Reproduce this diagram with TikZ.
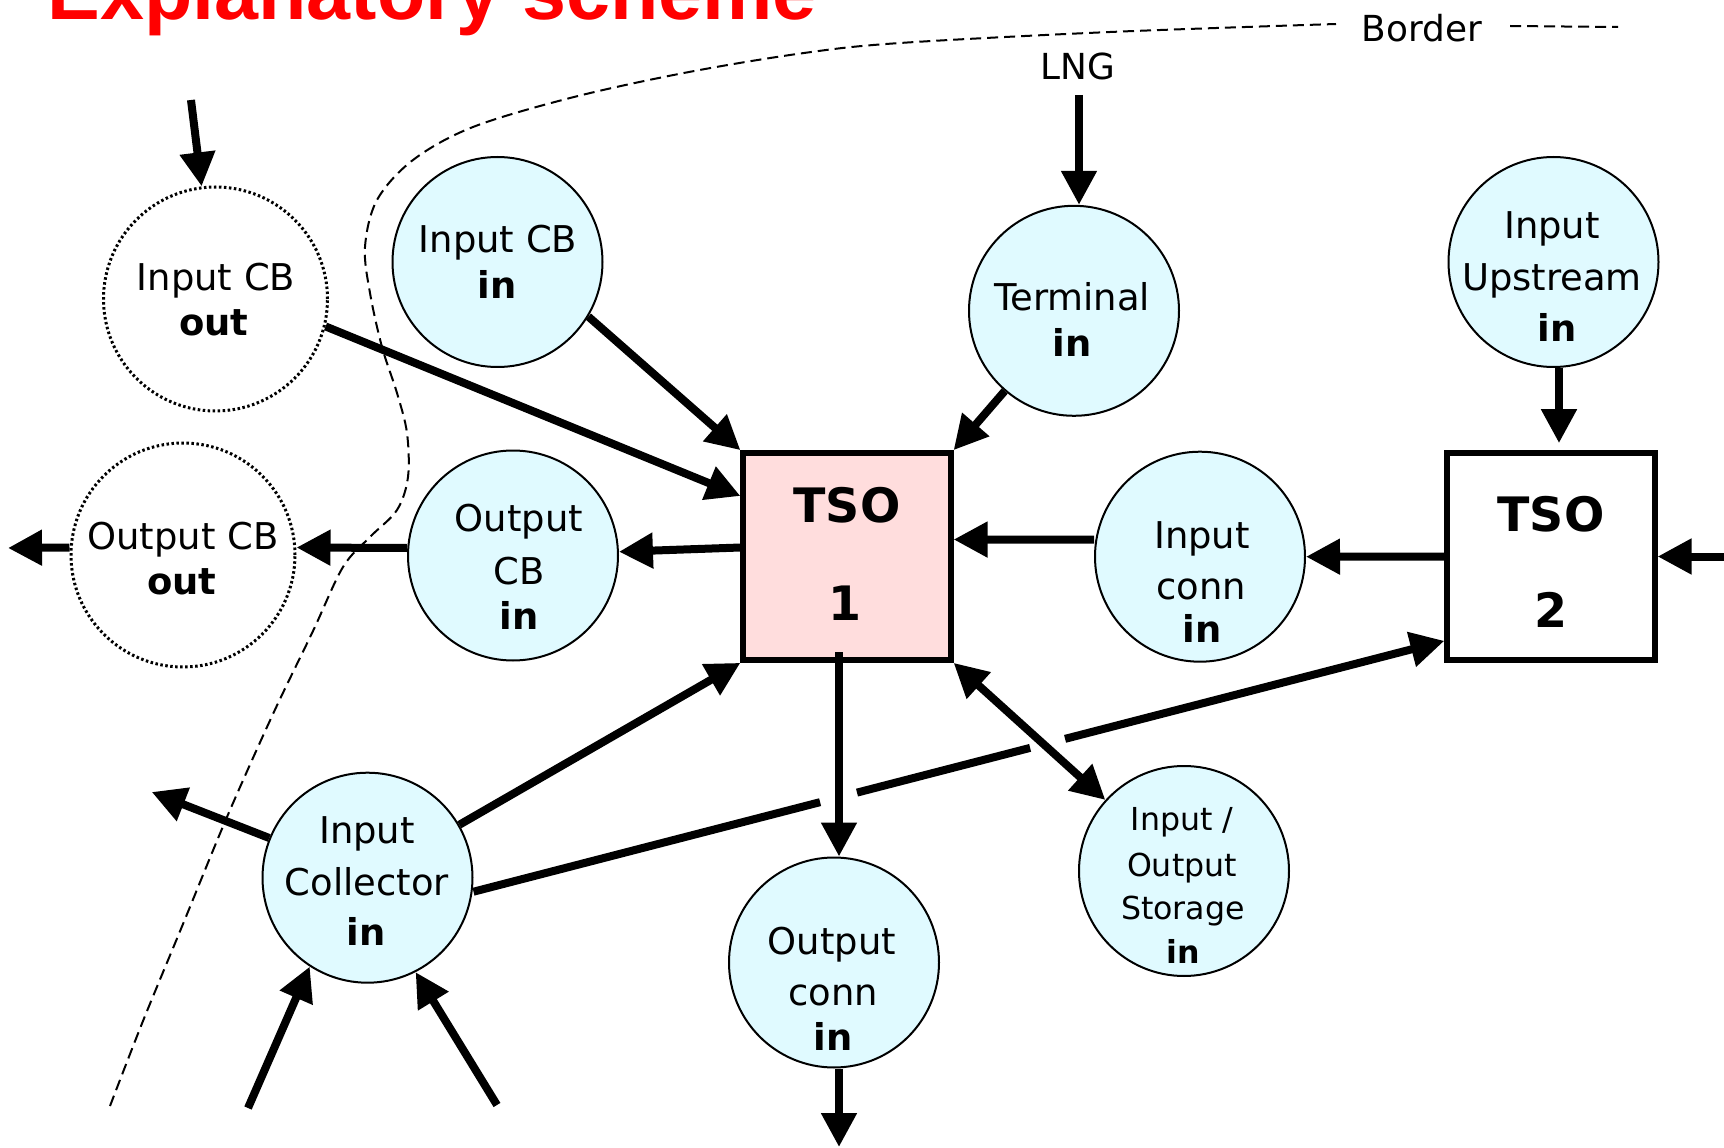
\documentclass[tikz,border=0pt]{standalone}
\usepackage{fontspec}
\setmainfont{DejaVu Sans}
\newfontfamily\titlefont{Liberation Sans}
\usetikzlibrary{arrows.meta,calc}
\definecolor{cyanfill}{RGB}{224,250,255}
\definecolor{pinkfill}{RGB}{255,221,221}
\begin{document}
\begin{tikzpicture}[x=0.1mm,y=-0.1mm,
  cnode/.style={circle,draw,line width=0.2mm,fill=cyanfill,minimum size=21mm,inner sep=0pt},
  dnode/.style={circle,draw,line width=0.3mm,dash pattern=on 0.25mm off 0.25mm,minimum size=22.4mm,inner sep=0pt},
  tsobox/.style={rectangle,draw,line width=0.57mm,minimum width=20.75mm,minimum height=20.7mm,inner sep=0pt},
  txt/.style={inner sep=0pt,anchor=base,font=\fontsize{10.5}{12}\selectfont},
  txtb/.style={inner sep=0pt,anchor=base,font=\bfseries\fontsize{10.5}{12}\selectfont},
  txts/.style={inner sep=0pt,anchor=base,font=\fontsize{9}{11}\selectfont},
  txtsb/.style={inner sep=0pt,anchor=base,font=\bfseries\fontsize{9}{11}\selectfont},
  tsotxt/.style={inner sep=0pt,anchor=base,font=\bfseries\fontsize{13.5}{16}\selectfont},
  conn/.style={line width=0.8mm},
  arr/.style={line width=0.8mm,-{Triangle[length=3.4mm,width=3.4mm]}},
  arrtwo/.style={line width=0.8mm,{Triangle[length=3.4mm,width=3.4mm]}-{Triangle[length=3.4mm,width=3.4mm]}},
  borderline/.style={line width=0.2mm,dash pattern=on 1.1mm off 0.6mm}
]
\useasboundingbox (0,0) rectangle (1724,1148);
\fill[white] (0,0) rectangle (1724,1148);

% title
\node[anchor=base west,inner sep=0pt,font=\titlefont\bfseries\fontsize{22.5}{27}\selectfont,text=red] (title) at (47,20) {Explanatory scheme};

% border
\draw[borderline] plot[smooth,tension=0.55] coordinates {(110,1106) (143,1021) (183,924) (227,817) (273,714) (313,631) (343,567) (370,537) (397,510) (408,477) (407,433) (397,393) (382,347) (370,293) (365,247) (377,200) (413,160) (473,127) (574,97) (689,72) (804,53) (900,43) (1110,32) (1336,24)};
\draw[borderline] (1510,26) -- (1618,27);
\node[inner sep=0pt,anchor=base,font=\fontsize{10.2}{12}\selectfont] (borderlbl) at (1422,42) {Border};
\node[inner sep=0pt,anchor=base,font=\fontsize{10.2}{12}\selectfont] (lng) at (1078,80) {LNG};

% TSO boxes
\node[tsobox,fill=pinkfill] (tso1) at (847,556.5) {};
\node[tsobox,fill=white] (tso2) at (1551,556.5) {};
\node[tsotxt] (tso1a) at (847,523) {TSO};
\node[tsotxt] (tso1b) at (845,620) {1};
\node[tsotxt] (tso2a) at (1551,531) {TSO};
\node[tsotxt] (tso2b) at (1551,627) {2};

% dotted circles
\node[dnode] (icbout) at (215.5,299) {};
\node[txt] (icbout1) at (216,290) {Input CB};
\node[txtb] (icbout2) at (214,335.5) {out};
\node[dnode] (ocbout) at (183,555) {};
\node[txt] (ocbout1) at (183,549) {Output CB};
\node[txtb] (ocbout2) at (182,594.5) {out};

% cyan circles
\node[cnode] (icbin) at (497.5,262) {};
\node[txt] (icbin1) at (498,253) {Input CB};
\node[txtb] (icbin2) at (497,299) {in};

\node[cnode] (ocbin) at (513,555.5) {};
\node[txt] (ocbin1) at (519,531.5) {Output};
\node[txt] (ocbin2) at (519,584) {CB};
\node[txtb] (ocbin3) at (519,629.5) {in};

\node[cnode] (terminal) at (1074,310.8) {};
\node[txt] (terminal1) at (1072,310.6) {Terminal};
\node[txtb] (terminal2) at (1072,356) {in};

\node[cnode] (upstream) at (1553.5,262) {};
\node[txt] (upstream1) at (1552,239) {Input};
\node[txt] (upstream2) at (1552,290) {Upstream};
\node[txtb] (upstream3) at (1557,342) {in};

\node[cnode] (inconn) at (1200,556.7) {};
\node[txt] (inconn1) at (1202,548) {Input};
\node[txt] (inconn2) at (1201,599) {conn};
\node[txtb] (inconn3) at (1202,642.8) {in};

\node[cnode] (collector) at (367.5,877.7) {};
\node[txt] (collector1) at (367,843) {Input};
\node[txt] (collector2) at (367,895) {Collector};
\node[txtb] (collector3) at (366,945) {in};

\node[cnode] (outconn) at (834,962.5) {};
\node[txt] (outconn1) at (832,954) {Output};
\node[txt] (outconn2) at (833,1005) {conn};
\node[txtb] (outconn3) at (833,1050) {in};

\node[cnode] (storage) at (1184,871) {};
\node[txts] (storage1) at (1182,830) {Input /};
\node[txts] (storage2) at (1182,876) {Output};
\node[txts] (storage3) at (1183,919) {Storage};
\node[txtsb] (storage4) at (1183,963) {in};

% connectors
\coordinate (a1s) at (191,100);
\draw[arr] (a1s) -- (icbout);
\draw[arr] (icbout.-14) -- ([yshift=6.05mm]tso1.west);
\draw[arr] (icbin.-31) -- (tso1.north west);
\draw[arr] (terminal) -- (tso1.north east);
\coordinate (lngs) at (1079,95);
\draw[arr] (lngs) -- (lngs |- terminal.north);
\draw[arr] ([xshift=0.55mm]upstream.south) -- ([xshift=0.8mm,yshift=0.7mm]tso2.north);
\draw[arr] ([yshift=0.9mm]tso1.west) -- (ocbin);
\draw[arr] ([yshift=0.75mm]ocbin.west) -- ([yshift=0.75mm]ocbout.east);
\coordinate (ocbl) at (8,548);
\draw[arr] ([yshift=0.75mm]ocbout.west) -- (ocbl);
\draw[arr] ([yshift=1.7mm]inconn.west) -- ([yshift=1.7mm]tso1.east);
\draw[arr] (tso2.west) -- (inconn.east);
\coordinate (r2) at (1730,556.5);
\draw[arr] (r2) -- (tso2.east);
\coordinate (t1b) at (839,652);
\draw[arr] (t1b) -- (t1b |- outconn.north);
\coordinate (bot) at (839,1147);
\draw[arr] (t1b |- outconn.south) -- (bot);
\draw[arrtwo] (tso1.south east) -- (storage);
\draw[arr] (collector) -- (tso1.south west);
\coordinate (ce) at ([yshift=-1.4mm]collector.east);
\coordinate (t2t) at ([yshift=2.2mm]tso2.south west);
\path (ce) -- (t2t) coordinate[pos=0.357] (g1a) coordinate[pos=0.395] (g1b)
                    coordinate[pos=0.5733] (g2a) coordinate[pos=0.6093] (g2b);
\draw[conn] (ce) -- (g1a);
\draw[conn] (g1b) -- (g2a);
\draw[arr] (g2b) -- (t2t);
\coordinate (cul) at (151.7,792);
\draw[arr] (collector.158) -- (cul);
\coordinate (cb1) at (248,1108);
\coordinate (cb2) at (497,1105);
\draw[arr] (cb1) -- (collector.-123);
\draw[arr] (cb2) -- (collector.-63);
\end{tikzpicture}
\end{document}
